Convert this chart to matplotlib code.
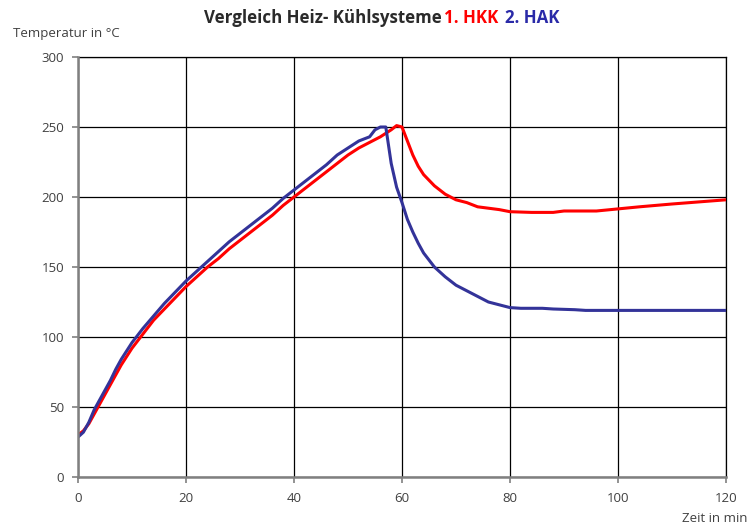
import numpy as np
import matplotlib
matplotlib.use('Agg')
import matplotlib.pyplot as plt

plt.rcParams['font.family'] = ['Open Sans', 'DejaVu Sans']

# data
hak_time = [0, 1, 2, 3, 4, 5, 6, 7, 8, 9, 10, 11, 12, 14, 16, 18, 20, 22, 24, 26, 28,
            30, 32, 34, 36, 38, 40, 42, 44, 46, 48, 50, 52, 54, 55, 56, 57, 58, 59,
            60, 61, 62, 63, 64, 65, 66, 68, 70, 72, 74, 76, 78, 80, 82, 86, 88, 92,
            94, 120]
hak_temp = [28.5, 32, 39, 48, 55, 62, 69, 77, 84, 90, 96, 101, 106, 115, 124, 132, 140,
            147, 154, 161, 168, 174, 180, 186, 192, 199, 205, 211, 217, 223, 230, 235,
            240, 243, 248, 250, 250, 224, 207, 196, 184, 175, 167, 160, 155, 150, 143,
            137, 133, 129, 125, 123, 121, 120.5, 120.5, 120, 119.5, 119, 119]

hkk_time = [0, 1, 2, 3, 4, 5, 6, 7, 8, 9, 10, 11, 12, 14, 16, 18, 20, 22, 24, 26, 28,
            30, 32, 34, 36, 38, 40, 42, 44, 46, 48, 50, 52, 54, 56, 58, 59, 60, 61,
            62, 63, 64, 65, 66, 67, 68, 70, 72, 74, 76, 78, 80, 84, 88, 90, 96, 100,
            104, 110, 115, 120]
hkk_temp = [30, 33, 38, 45, 52, 59, 66, 73, 80, 86, 92, 97, 102, 112, 120, 128, 136,
            143, 150, 156, 163, 169, 175, 181, 187, 194, 200, 206, 212, 218, 224, 230,
            235, 239, 243, 248, 251, 250, 240, 230, 222, 216, 212, 208, 205, 202, 198,
            196, 193, 192, 191, 189.5, 189, 189, 190, 190, 191.5, 193, 195, 196.5, 198]

x_ticks = [0, 20, 40, 60, 80, 100, 120]
y_ticks = [0, 50, 100, 150, 200, 250, 300]

RED = '#ff0000'
BLUE = '#333399'
TEXT = '#404040'
AXIS_GRAY = '#808080'

fig = plt.figure(figsize=(7.51, 5.25), dpi=100)
ax = fig.add_axes([78 / 751, 48 / 525, 648 / 751, 420 / 525])

ax.plot(hkk_time, hkk_temp, color=RED, linewidth=2.2, zorder=3)
ax.plot(hak_time, hak_temp, color=BLUE, linewidth=2.2, zorder=4)

ax.set_xlim(0, 120)
ax.set_ylim(0, 300)
ax.set_xticks(x_ticks)
ax.set_yticks(y_ticks)
ax.grid(True, color='black', linewidth=0.9, zorder=1)
ax.set_axisbelow(True)

for side in ['left', 'bottom']:
    ax.spines[side].set_color(AXIS_GRAY)
    ax.spines[side].set_linewidth(1.8)
    ax.spines[side].set_zorder(5)
for side in ['top', 'right']:
    ax.spines[side].set_color('black')
    ax.spines[side].set_linewidth(0.9)

ax.tick_params(axis='both', colors=AXIS_GRAY, length=4, width=1.2,
               labelcolor=TEXT, labelsize=9.5)
ax.tick_params(axis='x', pad=7)
ax.tick_params(axis='y', pad=6)

fig.text(13 / 751, 1 - 33 / 525, 'Temperatur in °C', ha='left', va='center',
         fontsize=9.5, color=TEXT)
fig.text(748 / 751, 1 - 519 / 525, 'Zeit in min', ha='right', va='center',
         fontsize=9.5, color=TEXT)

ty = 1 - 18 / 525
fig.text(204 / 751, ty, 'Vergleich Heiz- Kühlsysteme', ha='left', va='center',
         fontsize=12.2, fontweight='bold', color='#2a2a2a')
fig.text(444 / 751, ty, '1. HKK', ha='left', va='center',
         fontsize=12.2, fontweight='bold', color=RED)
fig.text(505 / 751, ty, '2. HAK', ha='left', va='center',
         fontsize=12.2, fontweight='bold', color='#2a2aa8')

fig.savefig('out.png', dpi=100)
